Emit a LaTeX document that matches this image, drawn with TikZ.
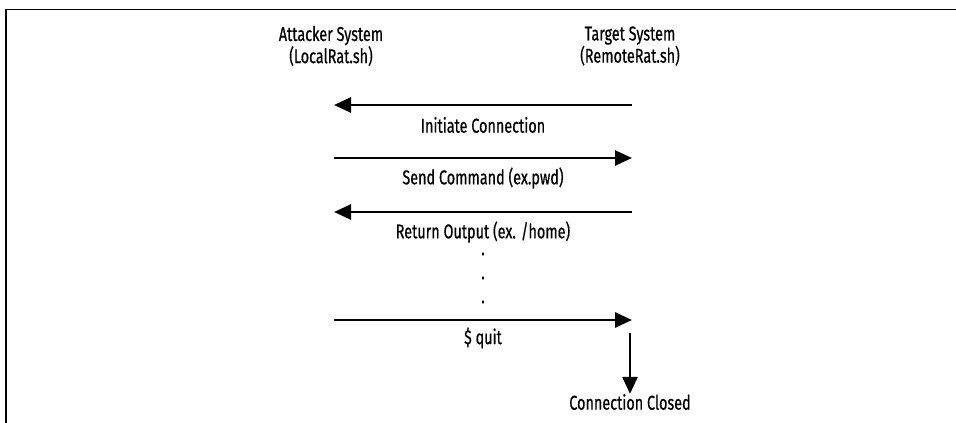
\documentclass[tikz,border=0pt]{standalone}
\usepackage{fontspec}
\setmainfont[FakeStretch=0.72,FakeBold=0.6]{Fira Sans}
\usetikzlibrary{arrows.meta}
\begin{document}
\begin{tikzpicture}[x=1pt,y=-1pt,
  msg/.style={line width=2.6pt,-{Triangle[length=17pt,width=15pt]}},
  lbl/.style={inner sep=0pt,font=\fontsize{20}{22}\selectfont},
  hdr/.style={inner sep=0pt,align=center,font=\fontsize{20}{20}\selectfont}]
\useasboundingbox (0,0) rectangle (956,423);
\draw[line width=1.8pt] (956,9.5) -- (6,9.5) -- (6,423);
% headers
\node[hdr] (att) at (331,46) {Attacker System\\(LocalRat.sh)};
\node[hdr] (tgt) at (630,46) {Target System\\(RemoteRat.sh)};
% endpoints
\coordinate (a1) at (334,105); \coordinate (t1) at (632,105);
\coordinate (a2) at (334,158); \coordinate (t2) at (632,158);
\coordinate (a3) at (334,212); \coordinate (t3) at (632,212);
\coordinate (a4) at (334,320); \coordinate (t4) at (632,320);
\coordinate (d1) at (630,333);
\draw[msg] (t1) -- (a1);
\draw[msg] (a2) -- (t2);
\draw[msg] (t3) -- (a3);
\draw[msg] (a4) -- (t4);
\node[lbl] (l1) at (483,125) {Initiate Connection};
\node[lbl] (l2) at (483,178) {Send Command (ex.pwd)};
\node[lbl] (l3) at (483,232) {Return Output (ex. /home)};
\node[lbl] (dot1) at (483,254) {.};
\node[lbl] (dot2) at (483,278) {.};
\node[lbl] (dot3) at (483,302) {.};
\node[lbl] (l4) at (483,338) {\$ quit};
\node[lbl] (cc) at (630,402) {Connection Closed};
\draw[msg] (d1) -- (cc.north);
\end{tikzpicture}
\end{document}
